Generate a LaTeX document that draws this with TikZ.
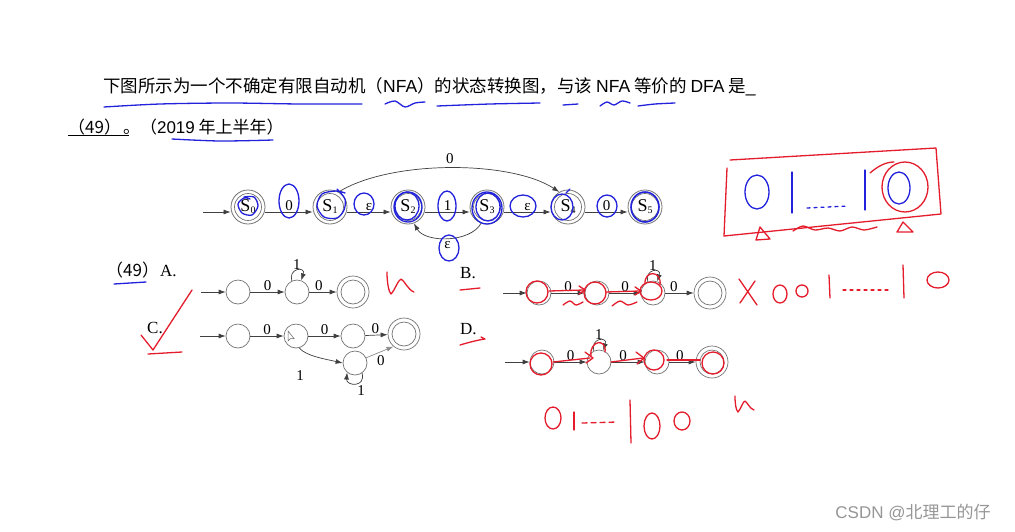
\documentclass[tikz,border=0pt]{standalone}
\usepackage{fontspec}
\setmainfont{Liberation Serif}
\newfontfamily\cjk{Noto Sans CJK SC}
\newfontfamily\lsans{Liberation Sans}
\usetikzlibrary{arrows.meta}
\definecolor{pred}{RGB}{228,28,44}
\definecolor{pblue}{RGB}{34,34,220}
\definecolor{stgray}{RGB}{115,115,115}
\definecolor{wm}{RGB}{150,150,150}
\newcommand\ssub[1]{\raisebox{-2pt}{\fontsize{10}{10}\selectfont#1}}
\newcommand\lat[1]{{\lsans #1}}
\tikzset{
 st/.style={circle, draw=stgray, line width=0.7pt, minimum size=24pt, inner sep=0pt},
 ost/.style={circle, draw=stgray, line width=0.7pt, minimum size=32pt, inner sep=0pt},
 nst/.style={circle, draw=stgray, line width=0.8pt, minimum size=34pt, inner sep=0pt, font=\fontsize{18}{18}\selectfont},
 arr/.style={-{Latex[length=7pt,width=5pt]}, draw=black!75, line width=0.7pt},
 lab/.style={font=\fontsize{15}{15}\selectfont, inner sep=1pt},
 rpen/.style={draw=pred, line width=1.3pt, line cap=round, line join=round},
 bpen/.style={draw=pblue, line width=1.3pt, line cap=round, line join=round},
 txt/.style={font=\fontsize{17}{17}\selectfont\cjk, inner sep=0pt},
}
\begin{document}
\begin{tikzpicture}[x=1pt,y=-1pt]
\useasboundingbox[fill=white] (0,0) rectangle (1015,531);

% ---------- question text ----------
\node[txt, font=\fontsize{17.5}{17.5}\selectfont\cjk, anchor=base west] (q1) at (103,92) {下图所示为一个不确定有限自动机（\lat{NFA}）的状态转换图，与该 \lat{NFA} 等价的 \lat{DFA} 是\lat{\_}};
\node[txt, anchor=base west] (q2) at (68,133) {（49）\hspace{2pt}。（\lat{2019} 年上半年）};
\coordinate (ul1) at (68,135.5);
\coordinate (ul2) at (129,135.5);
\draw[black, line width=0.8pt] (ul1) -- (ul2);

% ---------- NFA ----------
\node[nst] (S0) at (248,207) {S\ssub{0}};
\node[nst] (S1) at (330,207) {S\ssub{1}};
\node[nst] (S2) at (408,207) {S\ssub{2}};
\node[nst] (S3) at (487,207) {S\ssub{3}};
\node[nst] (S4) at (568,207) {S\ssub{4}};
\node[nst] (S5) at (645,207) {S\ssub{5}};
\foreach \n in {S0,S1,S2,S3,S4,S5} \draw[stgray, line width=0.7pt] (\n) circle (13.5pt);
\coordinate (s0in) at (203,212);
\draw[arr] (s0in) -- (S0.west |- s0in);
\draw[arr] (S0.east |- s0in) -- node[lab, above] {0} (S1.west |- s0in);
\draw[arr] (S1.east |- s0in) -- node[lab, above] {ε} (S2.west |- s0in);
\draw[arr] (S2.east |- s0in) -- node[lab, above] {1} (S3.west |- s0in);
\draw[arr] (S3.east |- s0in) -- node[lab, above] {ε} (S4.west |- s0in);
\draw[arr] (S4.east |- s0in) -- node[lab, above] {0} (S5.west |- s0in);
\draw[arr] (S1.60) .. controls (390,160) and (510,160) .. node[lab, above=3pt] {0} (S4.120);
\draw[arr] (S3.-110) .. controls (470,243) and (425,243) .. node[lab, below=2pt] {ε} (S2.-70);

% ---------- options ----------
\node[txt, anchor=base west] (o49) at (106,276) {（49）\hspace{1pt}{\rmfamily A.}};
\node[font=\fontsize{17}{17}\selectfont, anchor=base west, inner sep=0pt] (oC) at (147,333) {C.};
\node[font=\fontsize{17}{17}\selectfont, anchor=base west, inner sep=0pt] (oB) at (460,278) {B.};
\node[font=\fontsize{17}{17}\selectfont, anchor=base west, inner sep=0pt] (oD) at (460,334) {D.};

% A
\node[st] (a1) at (238,292) {};
\node[st] (a2) at (297,292) {};
\node[ost] (a3) at (353,292) {};
\draw[stgray, line width=0.7pt] (a3) circle (12pt);
\coordinate (ain) at (201,292);
\draw[arr] (ain) -- (a1);
\draw[arr] (a1) -- node[lab, above] {0} (a2);
\draw[arr] (a2) -- node[lab, above, pos=0.35] {0} (a3);
\draw[arr] (a2.115) .. controls (288,268) and (306,266) .. node[lab, above, pos=0.5] {1} (a2.70);

% C
\node[st] (c1) at (238,336) {};
\node[st] (c2) at (296,336) {};
\node[st] (c3) at (353,336) {};
\node[ost] (c4) at (404,334) {};
\draw[stgray, line width=0.7pt] (c4) circle (12pt);
\node[st] (c5) at (355,363) {};
\coordinate (cin) at (200,336);
\draw[arr] (cin) -- (c1);
\draw[arr] (c1) -- node[lab, above] {0} (c2);
\draw[arr] (c2) -- node[lab, above] {0} (c3);
\draw[arr] (c3) -- node[lab, above, pos=0.45] {0} (c4);
\draw[arr] (c2.-75) .. controls (306,356) and (325,359) .. (c5.west);
\node[lab] (c1lab) at (300,376) {1};
\draw[arr] (c5.-55) .. controls (366,388) and (346,386) .. (c5.-130);
\node[lab] (c5lab) at (361,391) {1};
\draw[arr, draw=black!45] (c5.25) -- node[lab, below right, pos=0.35, text=black] {0} (c4.-130);
\draw[black!60, line width=0.5pt, fill=white] (288,331) -- (288,341) -- (290.5,338.5) -- (294,338.5) -- cycle;

% B
\node[st] (b1) at (539,293) {};
\node[st] (b2) at (597,293) {};
\node[st] (b3) at (653,293) {};
\node[ost] (b4) at (710,293) {};
\draw[stgray, line width=0.7pt] (b4) circle (12pt);
\coordinate (bin) at (503,293);
\draw[arr] (bin) -- (b1);
\draw[arr] (b1) -- node[lab, above] {0} (b2);
\draw[arr] (b2) -- node[lab, above] {0} (b3);
\draw[arr] (b3) -- node[lab, above, pos=0.3] {0} (b4);
\draw[arr] (b3.115) .. controls (644,269) and (662,267) .. node[lab, above] {1} (b3.70);

% D
\node[st] (d1) at (542,362) {};
\node[st] (d2) at (599,362) {};
\node[st] (d3) at (657,362) {};
\node[ost] (d4) at (712,362) {};
\draw[stgray, line width=0.7pt] (d4) circle (12pt);
\coordinate (din) at (505,362);
\draw[arr] (din) -- (d1);
\draw[arr] (d1) -- node[lab, above] {0} (d2);
\draw[arr] (d2) -- node[lab, above, pos=0.35] {0} (d3);
\draw[arr] (d3) -- node[lab, above, pos=0.4] {0} (d4);
\draw[arr] (d2.115) .. controls (590,338) and (608,336) .. node[lab, above] {1} (d2.70);

% ---------- watermark ----------
\node[font=\fontsize{17}{17}\selectfont\cjk, text=wm, inner sep=0pt] (wmk) at (913,512) {\lat{CSDN @}北理工的仔};

% ---------- blue pen ----------
\draw[bpen] plot[smooth] coordinates {(104,107)(160,104)(230,103)(300,104)(362,104)};
\draw[bpen] plot[smooth] coordinates {(385,104)(395,101)(405,107)(415,103)(425,102)};
\draw[bpen] plot[smooth] coordinates {(437,106)(490,104)(540,103)};
\draw[bpen] (563,105) -- (578,104);
\draw[bpen] plot[smooth] coordinates {(600,106)(607,102)(614,105)(622,101)(630,103)};
\draw[bpen] plot[smooth] coordinates {(638,106)(655,104)(675,103)};
\draw[bpen] plot[smooth] coordinates {(172,139)(220,141)(273,140)};
\draw[bpen] plot[smooth] coordinates {(114,284)(130,283)(146,282)};
% NFA marks
\draw[bpen] plot[smooth] coordinates {(244,197)(254,197)(258,206)(252,215)(242,213)(238,204)(244,198)(250,199)};
\draw[bpen] (289,201) ellipse (10 and 17);
\draw[bpen] plot[smooth] coordinates {(345,193)(336,191)(322,194)(317,206)(324,217)(337,218)(344,210)(345,199)(337,189)};
\draw[bpen] (364,204) ellipse (10 and 11);
\draw[bpen] (408,207) ellipse (14 and 15);
\draw[bpen] (407,206) ellipse (12 and 14);
\draw[bpen] (447,206) ellipse (9 and 15);
\draw[bpen] (487,208) ellipse (15 and 16);
\draw[bpen] (488,207) ellipse (12 and 14);
\draw[bpen] (523,206) ellipse (13 and 11);
\draw[bpen] (562,207) ellipse (11 and 13);
\draw[bpen] (566,193) -- (570,189);
\draw[bpen] (607,206) ellipse (10 and 11);
\draw[bpen, line width=1.6pt] (645,207) ellipse (14 and 15);
\draw[bpen] (449,248) ellipse (10 and 13);
% box digits
\draw[bpen] (757,192) ellipse (12 and 17);
\draw[bpen] (792,172) -- (792,213);
\draw[bpen, dash pattern=on 3pt off 4pt] (807,208) -- (848,206);
\draw[bpen] (865,170) -- (865,210);
\draw[bpen] (899,188) ellipse (11 and 16);

% ---------- red pen ----------
\draw[rpen] (730,160) -- (936,148) -- (941,214) -- (724,236) -- (727,168);
\draw[rpen] (905,187) ellipse (23 and 25);
\draw[rpen] (870,173) .. controls (878,166) and (886,162) .. (894,162);
\draw[rpen] (756,240) -- (760,227) -- (770,239) -- cycle;
\draw[rpen] (897,232) -- (903,222) -- (913,232) -- cycle;
\draw[rpen] plot[smooth] coordinates {(793,231)(803,226)(815,230)(828,228)(840,231)(852,227)(864,230)(877,227)};
% check and marks left
\draw[rpen] (141,335) -- (153,350) -- (192,290);
\draw[rpen] (148,354) -- (182,352);
\draw[rpen] (387,272) .. controls (387,284) and (389,292) .. (391,294) .. controls (395,290) and (398,280) .. (401,279) .. controls (404,280) and (408,290) .. (414,292);
\draw[rpen] (460,290) -- (480,288);
\draw[rpen] (460,345) .. controls (470,342) and (478,340) .. (485,339) -- (481,337);
% B marks
\draw[rpen] (537,292) ellipse (11 and 11);
\draw[rpen] (549,291) -- (584,290);
\draw[rpen] (579,286) -- (585,290) -- (579,294);
\draw[rpen] (595,293) ellipse (11 and 11);
\draw[rpen] (606,292) -- (640,291);
\draw[rpen] (635,287) -- (641,291) -- (635,295);
\draw[rpen] (651,291) ellipse (11 and 9);
\draw[rpen] (645,284) .. controls (644,270) and (662,270) .. (660,285);
\draw[rpen] plot[smooth] coordinates {(563,305)(570,301)(576,305)(583,302)};
\draw[rpen] plot[smooth] coordinates {(612,306)(620,301)(628,305)(637,302)};
\draw[rpen] (739,279) -- (757,305);
\draw[rpen] (755,281) -- (740,303);
% D marks
\draw[rpen] (541,364) ellipse (11 and 11);
\draw[rpen] (553,362) -- (590,358);
\draw[rpen] (585,352) -- (593,358) -- (586,363);
\draw[rpen] (591,356) .. controls (589,340) and (607,338) .. (605,352);
\draw[rpen] (611,362) -- (643,358);
\draw[rpen] (636,352) -- (644,358) -- (637,364);
\draw[rpen] (654,360) ellipse (10 and 10);
\draw[rpen] (667,360) -- (700,360);
\draw[rpen] (713,363) ellipse (11 and 11);
% right red 001....10
\draw[rpen] (780,294) ellipse (7 and 9);
\draw[rpen] (802,291) ellipse (6 and 6);
\draw[rpen] (829,275) -- (830,298);
\draw[rpen, dash pattern=on 3pt off 4pt] (843,290) -- (890,290);
\draw[rpen] (903,265) -- (904,298);
\draw[rpen] (938,280) ellipse (11 and 8);
% bottom red 01---100
\draw[rpen] (553,418) ellipse (8 and 11);
\draw[rpen] (574,412) -- (574,430);
\draw[rpen, dash pattern=on 5pt off 4pt] (582,423) -- (617,422);
\draw[rpen] (630,400) -- (631,443);
\draw[rpen] (652,426) ellipse (8 and 13);
\draw[rpen] (682,421) ellipse (8 and 9);
\draw[rpen] (735,396) .. controls (735,404) and (736,410) .. (738,412) .. controls (741,409) and (743,401) .. (745,401) .. controls (747,402) and (750,409) .. (754,410);
\end{tikzpicture}
\end{document}
